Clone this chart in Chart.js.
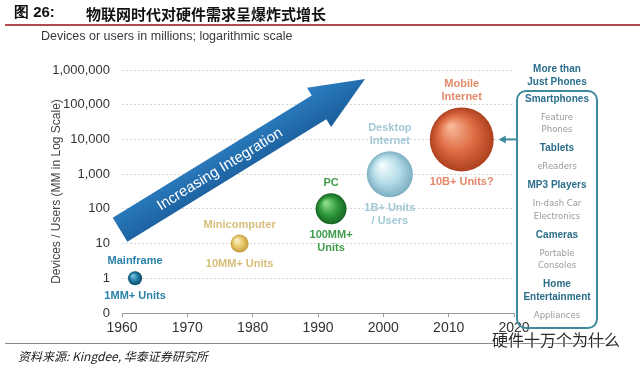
<!DOCTYPE html>
<html>
<head>
<meta charset="utf-8">
<script src="https://cdn.jsdelivr.net/npm/chart.js@4"></script>
<style>
  html, body { margin: 0; padding: 0; background: #fff; }
  #wrap { position: relative; width: 640px; height: 369px; overflow: hidden; font-family: "Liberation Sans", Arial, sans-serif; }
  #chart { position: absolute; left: 0; top: 0; }
  .hdr { position: absolute; top: 3px; left: 14px; font-size: 15px; font-weight: bold; color: #111; white-space: nowrap; }
  .hdr .ttl { position: absolute; left: 72px; top: 0; font-family: "Noto Sans CJK SC"; }
  .rule-top { position: absolute; left: 5px; right: 0; top: 24px; height: 2px; background: #b24a50; }
  .sub { position: absolute; left: 41px; top: 29px; font-size: 12.5px; color: #3a3a3a; white-space: nowrap; }
  .rule-bot { position: absolute; left: 5px; width: 600px; top: 343px; height: 1px; background: #8a8a8a; }
  .src { position: absolute; left: 18px; top: 347px; font-size: 12px; font-style: italic; font-family: "Noto Sans CJK SC"; color: #222; white-space: nowrap; }
  .wm { position: absolute; left: 492px; top: 327px; font-size: 16px; color: #2a2a2a; font-family: "Noto Sans CJK SC"; white-space: nowrap;
        text-shadow: 0 0 2px #fff, 0 0 2px #fff; }
</style>
</head>
<body>
<div id="wrap">
  <canvas id="chart" width="640" height="369"></canvas>
  <div class="hdr">图 26:<span class="ttl">物联网时代对硬件需求呈爆炸式增长</span></div>
  <div class="rule-top"></div>
  <div class="sub">Devices or users in millions; logarithmic scale</div>
  <div class="rule-bot"></div>
  <div class="src">资料来源: Kingdee, 华泰证券研究所</div>
  <div class="wm">硬件十万个为什么</div>
</div>
<script>
// Computing platforms: year of peak relevance vs devices/users (millions, log scale)
const platformYears = [1962, 1978, 1992, 2001, 2012];
const platformUsers = [1, 10, 100, 1000, 10000];
const bubbleRadius = [7, 9, 15.5, 23, 32];
const labelsAbove = [['Mainframe'], ['Minicomputer'], ['PC'], ['Desktop', 'Internet'], ['Mobile', 'Internet']];
const labelsBelow = [['1MM+ Units'], ['10MM+ Units'], ['100MM+', 'Units'], ['1B+ Units', '/ Users'], ['10B+ Units?']];

const xTickValues = [1960, 1970, 1980, 1990, 2000, 2010, 2020];
const yTickValues = [0.1, 1, 10, 100, 1000, 10000, 100000, 1000000];
const yTickLabels = ['0', '1', '10', '100', '1,000', '10,000', '100,000', '1,000,000'];

// the big "Increasing Integration" arrow, anchored in data units
const arrowFrom = { x: 1959.7, y: 25 };
const arrowTo = { x: 1997.2, y: 550000 };
const arrowText = 'Increasing Integration';

// side box: "More than Just Phones"
const boxTitle = ['More than', 'Just Phones'];
const boxItems = [
    { lines: ['Smartphones'], bold: true },
    { lines: ['Feature', 'Phones'], bold: false },
    { lines: ['Tablets'], bold: true },
    { lines: ['eReaders'], bold: false },
    { lines: ['MP3 Players'], bold: true },
    { lines: ['In-dash Car', 'Electronics'], bold: false },
    { lines: ['Cameras'], bold: true },
    { lines: ['Portable', 'Consoles'], bold: false },
    { lines: ['Home', 'Entertainment'], bold: true },
    { lines: ['Appliances'], bold: false }
];

// bubble shading: highlight, body, edge
const bubbleColors = [
    ['#7cc8e2', '#1f7ca3', '#0c4a68'],
    ['#fcf1c6', '#e9c86a', '#c49c3e'],
    ['#94de8e', '#2f9b3d', '#186424'],
    ['#f2fbfd', '#b7dde9', '#7cafc2'],
    ['#f7b797', '#de6b42', '#ad401e']
];
const labelColors = ['#2a82aa', '#d6be7a', '#3f9c4b', '#a3c8d6', '#e3896a'];

Chart.defaults.font.family = '"Liberation Sans", Arial, sans-serif';

function bubbleFill(ctx) {
    const c = bubbleColors[ctx.dataIndex];
    const chart = ctx.chart;
    if (!chart.chartArea || !ctx.raw) return c[1];
    const x = chart.scales.x.getPixelForValue(ctx.raw.x);
    const y = chart.scales.y.getPixelForValue(ctx.raw.y);
    const r = ctx.raw.r;
    const g = chart.ctx.createRadialGradient(x - r * 0.35, y - r * 0.4, r * 0.05, x, y, r);
    g.addColorStop(0, c[0]);
    g.addColorStop(0.55, c[1]);
    g.addColorStop(1, c[2]);
    return g;
}

const arrowPlugin = {
    id: 'integrationArrow',
    beforeDatasetsDraw(chart) {
        const { ctx, scales: { x, y } } = chart;
        const x0 = x.getPixelForValue(arrowFrom.x), y0 = y.getPixelForValue(arrowFrom.y);
        const x1 = x.getPixelForValue(arrowTo.x), y1 = y.getPixelForValue(arrowTo.y);
        const len = Math.hypot(x1 - x0, y1 - y0);
        const ang = Math.atan2(y1 - y0, x1 - x0);
        const shaft = 14, head = 23, headLen = 54;
        ctx.save();
        ctx.translate(x0, y0);
        ctx.rotate(ang);
        const g = ctx.createLinearGradient(0, -head, 0, head);
        g.addColorStop(0, '#2c7fc2');
        g.addColorStop(1, '#1a5c9a');
        ctx.fillStyle = g;
        ctx.beginPath();
        ctx.moveTo(0, -shaft);
        ctx.lineTo(len - headLen, -shaft);
        ctx.lineTo(len - headLen, -head);
        ctx.lineTo(len, 0);
        ctx.lineTo(len - headLen, head);
        ctx.lineTo(len - headLen, shaft);
        ctx.lineTo(0, shaft);
        ctx.closePath();
        ctx.fill();
        ctx.fillStyle = '#fff';
        ctx.font = '15px "Liberation Sans", Arial, sans-serif';
        ctx.textAlign = 'center';
        ctx.textBaseline = 'middle';
        ctx.fillText(arrowText, (len - headLen) / 2, 1);
        ctx.restore();
    }
};

const bubbleLabelPlugin = {
    id: 'bubbleLabels',
    afterDatasetsDraw(chart) {
        const { ctx, scales: { x, y } } = chart;
        ctx.save();
        ctx.font = 'bold 11px "Liberation Sans", Arial, sans-serif';
        ctx.textAlign = 'center';
        ctx.textBaseline = 'middle';
        platformYears.forEach((yr, i) => {
            const px = x.getPixelForValue(yr);
            const py = y.getPixelForValue(platformUsers[i]);
            const r = bubbleRadius[i];
            ctx.fillStyle = labelColors[i];
            const above = labelsAbove[i];
            above.forEach((t, j) => {
                ctx.fillText(t, px, py - r - 10 - (above.length - 1 - j) * 13);
            });
            labelsBelow[i].forEach((t, j) => {
                ctx.fillText(t, px, py + r + 11 + j * 13);
            });
        });
        ctx.restore();
    }
};

const sideBoxPlugin = {
    id: 'sideBox',
    afterDraw(chart) {
        const { ctx, scales: { x, y } } = chart;
        const left = 517, right = 597, top = 91, bottom = 328, rad = 9;
        const cx = (left + right) / 2;
        ctx.save();
        ctx.strokeStyle = '#3f8a9c';
        ctx.lineWidth = 2;
        ctx.beginPath();
        ctx.roundRect(left, top, right - left, bottom - top, rad);
        ctx.stroke();

        // pointer from the box to the mobile internet bubble
        const last = platformYears.length - 1;
        const ay = y.getPixelForValue(platformUsers[last]);
        const ax = x.getPixelForValue(platformYears[last]) + bubbleRadius[last] + 5;
        ctx.beginPath();
        ctx.moveTo(left, ay);
        ctx.lineTo(ax + 5, ay);
        ctx.stroke();
        ctx.fillStyle = '#3f8a9c';
        ctx.beginPath();
        ctx.moveTo(ax, ay);
        ctx.lineTo(ax + 7, ay - 4);
        ctx.lineTo(ax + 7, ay + 4);
        ctx.closePath();
        ctx.fill();

        ctx.textAlign = 'center';
        ctx.textBaseline = 'middle';
        ctx.font = 'bold 10px "Liberation Sans", Arial, sans-serif';
        ctx.fillStyle = '#2a6e8c';
        boxTitle.forEach((t, j) => ctx.fillText(t, cx, 69 + j * 13));

        let ty = 99;
        boxItems.forEach(item => {
            ctx.font = item.bold ? 'bold 10px "Liberation Sans", Arial, sans-serif'
                                 : '8.5px "DejaVu Sans", sans-serif';
            ctx.fillStyle = item.bold ? '#2a6e8c' : '#9a9a9a';
            item.lines.forEach(t => {
                ctx.fillText(t, cx, ty);
                ty += 12.5;
            });
            ty += 6;
        });
        ctx.restore();
    }
};

new Chart(document.getElementById('chart'), {
    type: 'bubble',
    data: {
        datasets: [{
            data: platformYears.map((yr, i) => ({ x: yr, y: platformUsers[i], r: bubbleRadius[i] })),
            backgroundColor: bubbleFill,
            borderWidth: 0
        }]
    },
    options: {
        responsive: false,
        animation: false,
        devicePixelRatio: 1,
        events: [],
        layout: { padding: { left: 45, right: 126, top: 70, bottom: 26 } },
        plugins: {
            legend: { display: false },
            tooltip: { enabled: false }
        },
        scales: {
            x: {
                type: 'linear',
                min: xTickValues[0],
                max: xTickValues[xTickValues.length - 1],
                afterBuildTicks: s => { s.ticks = xTickValues.map(v => ({ value: v })); },
                afterFit: s => { s.height = 30; },
                ticks: {
                    callback: v => String(v),
                    color: '#333',
                    font: { size: 14 },
                    padding: 3,
                    maxRotation: 0,
                    autoSkip: false
                },
                grid: { drawOnChartArea: false, color: '#999', tickLength: 4 },
                border: { color: '#999', width: 1 }
            },
            y: {
                type: 'logarithmic',
                min: yTickValues[0],
                max: yTickValues[yTickValues.length - 1],
                afterBuildTicks: s => { s.ticks = yTickValues.map(v => ({ value: v })); },
                afterFit: s => { s.width = 77; },
                ticks: {
                    callback: (v, i) => yTickLabels[i],
                    color: '#333',
                    font: { size: 13 },
                    padding: 12,
                    autoSkip: false
                },
                grid: {
                    drawTicks: false,
                    color: c => (c.tick && c.tick.value === yTickValues[0]) ? 'rgba(0,0,0,0)' : '#d6d6d6'
                },
                border: { display: false, dash: [2, 2] },
                title: {
                    display: true,
                    text: 'Devices / Users (MM in Log Scale)',
                    color: '#444',
                    font: { size: 12 }
                }
            }
        }
    },
    plugins: [arrowPlugin, bubbleLabelPlugin, sideBoxPlugin]
});
</script>
</body>
</html>
